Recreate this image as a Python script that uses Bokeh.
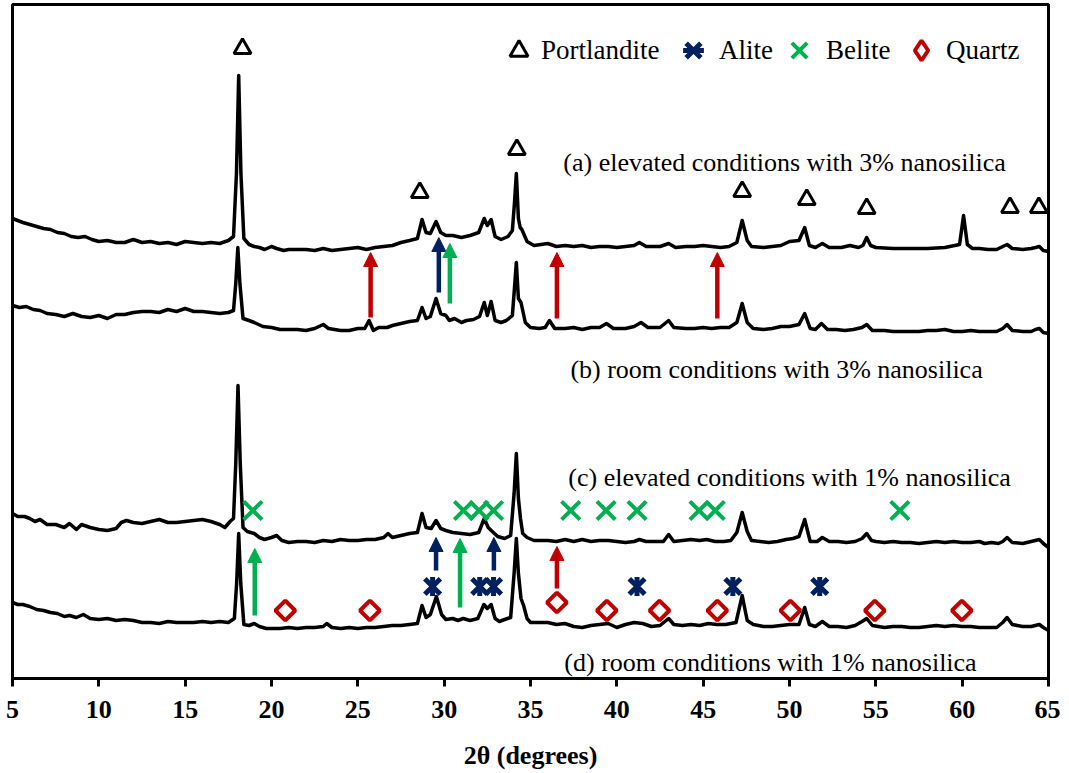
import math
from bokeh.plotting import figure
from bokeh.models import (Range1d, FixedTicker, Arrow, NormalHead, Label, Legend,
                          LegendItem, ColumnDataSource)
from bokeh.embed import file_html
from bokeh.resources import INLINE

# ---------------- data (2theta in degrees, intensity in a.u. with stacking offset) ----------------
trace_a = [(5.0,460),(5.3,458),(5.6,456),(6.0,454),(6.4,452),(6.8,450),(7.2,449),(7.6,446),(8.0,445),(8.4,442),(8.8,441),(9.2,442),(9.6,439),(10.0,437),(10.5,438),(11.0,436),(11.5,436),(12.0,439),(12.5,436),(13.0,437),(13.5,435),(14.0,436),(14.5,434),(15.0,437),(15.5,436),(16.0,435),(16.5,436),(17.0,435),(17.5,438),(17.8,442),(17.97,505),(18.1,603),(18.23,505),(18.4,440),(18.7,434),(19.0,432),(19.3,431),(19.6,429),(20.0,432),(20.3,430),(20.7,428),(21.0,429),(21.5,429),(22.0,429),(22.5,428),(23.0,430),(23.5,428),(24.0,429),(24.5,430),(25.0,431),(25.5,429),(26.0,431),(26.5,432),(27.0,433),(27.5,436),(28.0,438),(28.45,440),(28.72,459),(28.95,446),(29.2,445),(29.53,457),(29.8,446),(30.1,443),(30.5,443),(31.0,441),(31.5,443),(32.0,446),(32.32,460),(32.5,453),(32.72,459),(32.95,442),(33.3,439),(33.7,442),(33.95,448),(34.07,475),(34.18,505),(34.3,460),(34.4,451),(34.5,449),(34.8,437),(35.2,433),(35.6,434),(36.0,435),(36.5,432),(37.0,433),(37.5,432),(38.0,433),(38.5,431),(39.0,432),(39.5,432),(40.0,431),(40.5,432),(41.0,433),(41.3,436),(41.7,432),(42.0,432),(42.5,432),(43.0,435),(43.4,431),(44.0,432),(44.5,432),(45.0,433),(45.5,432),(46.0,431),(46.5,432),(46.95,436),(47.26,458),(47.55,438),(47.8,432),(48.5,431),(49.0,432),(49.5,433),(50.0,437),(50.55,438),(50.88,451),(51.15,433),(51.5,431),(51.9,435),(52.3,431),(53.0,431),(53.5,433),(54.0,431),(54.25,433),(54.47,441),(54.7,433),(55.0,431),(56.0,430),(57.0,430),(58.0,430),(59.0,431),(59.85,434),(60.08,463),(60.3,434),(60.6,430),(61.0,430),(61.5,429),(62.0,429),(62.35,432),(62.6,434),(62.9,430),(63.5,429),(64.0,430),(64.25,431),(64.47,432),(64.7,428),(65.0,427)]

trace_b = [(5.0,373),(5.4,371),(5.8,372),(6.2,369),(6.6,368),(7.0,365),(7.5,364),(8.0,362),(8.5,365),(9.0,362),(9.5,361),(10.0,363),(10.5,360),(11.0,364),(11.5,364),(12.0,366),(12.5,367),(13.0,367),(13.5,366),(14.0,369),(14.5,367),(15.0,370),(15.5,367),(16.0,367),(16.5,366),(17.0,365),(17.5,366),(17.8,368),(17.93,395),(18.05,431),(18.17,395),(18.35,360),(18.7,358),(19.0,356),(19.5,352),(20.0,351),(20.5,349),(21.0,349),(21.5,349),(22.0,348),(22.5,350),(23.0,354),(23.3,350),(24.0,348),(24.5,348),(25.0,350),(25.4,350),(25.65,358),(25.9,348),(26.2,351),(26.7,351),(27.0,353),(27.5,355),(28.0,357),(28.45,358),(28.72,371),(28.95,360),(29.2,362),(29.53,380),(29.8,365),(30.1,363),(30.3,358),(30.6,360),(31.0,356),(31.3,358),(31.7,359),(32.05,362),(32.32,376),(32.5,363),(32.72,377),(32.95,358),(33.3,356),(33.6,358),(33.95,363),(34.07,390),(34.18,416),(34.3,380),(34.45,376),(34.7,356),(35.0,351),(35.5,350),(35.85,351),(36.1,358),(36.4,350),(37.0,350),(37.5,351),(38.0,349),(38.5,351),(39.0,351),(39.4,355),(39.8,350),(40.5,350),(41.0,352),(41.4,356),(41.8,351),(42.5,351),(43.0,358),(43.3,351),(44.0,350),(44.5,350),(45.0,351),(45.5,350),(46.0,351),(46.5,351),(46.95,356),(47.26,375),(47.55,356),(47.9,350),(48.5,349),(49.0,350),(49.5,352),(50.0,352),(50.55,354),(50.88,365),(51.2,350),(51.5,349),(51.85,355),(52.2,349),(52.7,349),(53.2,348),(53.7,349),(54.2,351),(54.47,354),(54.8,348),(55.5,348),(56.0,347),(57.0,347),(57.5,347),(58.0,348),(58.5,348),(59.0,349),(59.5,347),(60.0,347),(60.5,348),(61.0,347),(61.5,347),(62.0,347),(62.35,350),(62.6,354),(62.9,348),(63.5,347),(64.0,347),(64.25,349),(64.47,350),(64.7,346),(65.0,345)]

trace_c = [(5.0,165),(5.3,162),(5.7,162),(6.0,160),(6.3,157),(6.6,159),(7.0,154),(7.5,154),(8.0,151),(8.3,155),(8.7,149),(9.0,154),(9.5,151),(10.0,149),(10.5,148),(11.0,150),(11.3,156),(11.6,158),(12.0,156),(12.5,155),(13.0,157),(13.5,159),(14.0,156),(14.5,156),(15.0,157),(15.5,158),(16.0,159),(16.5,157),(17.0,154),(17.3,151),(17.6,157),(17.8,160),(17.93,215),(18.06,293),(18.19,215),(18.35,151),(18.6,147),(19.0,145),(19.3,141),(19.6,139),(20.0,141),(20.3,143),(20.6,138),(21.0,136),(21.5,137),(22.0,137),(22.5,136),(23.0,138),(23.5,137),(24.0,139),(24.5,138),(25.0,138),(25.5,139),(26.0,139),(26.5,141),(26.75,145),(27.0,141),(27.5,143),(28.0,145),(28.45,146),(28.72,165),(28.95,151),(29.25,150),(29.53,158),(29.8,150),(30.1,148),(30.5,146),(31.0,145),(31.5,144),(32.0,146),(32.32,160),(32.55,151),(32.85,146),(33.1,142),(33.5,140),(33.85,143),(34.05,185),(34.18,225),(34.3,180),(34.42,160),(34.55,145),(34.8,141),(35.2,138),(35.6,138),(36.0,138),(36.5,137),(37.0,139),(37.5,137),(38.0,139),(38.5,137),(39.0,138),(39.5,138),(40.0,137),(40.5,136),(41.0,137),(41.3,139),(41.7,137),(42.2,137),(42.7,137),(43.0,144),(43.3,137),(43.8,138),(44.3,139),(44.8,138),(45.2,139),(45.7,137),(46.2,137),(46.6,138),(46.95,146),(47.26,166),(47.55,147),(47.8,138),(48.3,137),(48.8,136),(49.3,137),(49.8,139),(50.2,140),(50.55,142),(50.88,159),(51.2,137),(51.6,137),(51.9,141),(52.3,137),(52.8,137),(53.3,136),(53.8,137),(54.2,140),(54.47,145),(54.75,138),(55.0,137),(55.5,136),(56.0,137),(56.5,136),(57.0,136),(57.5,135),(58.0,136),(58.5,137),(59.0,136),(59.5,137),(60.0,136),(60.5,136),(61.0,137),(61.3,135),(61.7,136),(62.1,135),(62.35,137),(62.6,141),(62.9,136),(63.5,135),(64.0,137),(64.47,139),(64.7,135),(65.0,131)]

trace_d = [(5.0,76),(5.3,74),(5.6,74),(6.0,72),(6.4,69),(6.8,68),(7.2,66),(7.6,65),(8.0,62),(8.3,63),(8.7,61),(9.1,64),(9.5,60),(10.0,59),(10.5,60),(11.0,58),(11.5,59),(12.0,58),(12.5,56),(13.0,56),(13.5,55),(14.0,57),(14.5,56),(15.0,56),(15.5,56),(16.0,57),(16.5,56),(17.0,57),(17.5,56),(17.85,60),(17.98,95),(18.1,145),(18.22,95),(18.4,54),(18.7,53),(19.0,55),(19.3,52),(19.7,50),(20.0,50),(20.5,50),(21.0,51),(21.5,50),(22.0,51),(22.5,51),(23.0,52),(23.2,55),(23.5,51),(24.0,50),(24.5,51),(25.0,50),(25.5,51),(26.0,51),(26.5,52),(27.0,53),(27.5,53),(28.0,54),(28.45,55),(28.72,73),(28.95,61),(29.2,64),(29.55,82),(29.85,64),(30.1,59),(30.5,60),(30.8,58),(31.1,60),(31.5,58),(31.95,60),(32.3,74),(32.5,70),(32.72,74),(32.95,60),(33.2,57),(33.5,59),(33.85,61),(34.05,105),(34.18,140),(34.3,105),(34.45,80),(34.6,73),(34.8,60),(35.0,56),(35.5,56),(36.0,56),(36.5,54),(37.0,55),(37.5,52),(38.0,51),(38.5,53),(39.0,54),(39.5,55),(40.0,51),(40.5,54),(41.0,56),(41.5,55),(42.0,52),(42.5,53),(43.0,60),(43.3,54),(43.8,53),(44.3,54),(44.8,53),(45.3,55),(45.8,54),(46.3,54),(46.9,56),(47.26,83),(47.55,58),(47.9,54),(48.5,52),(49.0,52),(49.5,53),(50.0,54),(50.55,54),(50.88,71),(51.15,54),(51.5,52),(51.9,57),(52.3,52),(52.8,52),(53.3,51),(53.8,53),(54.2,57),(54.47,60),(54.8,53),(55.5,51),(56.0,52),(56.5,52),(57.0,51),(57.5,51),(58.0,52),(58.5,53),(59.0,52),(59.5,53),(60.0,52),(60.5,52),(61.0,51),(61.5,51),(62.0,51),(62.35,56),(62.6,61),(62.9,54),(63.5,52),(64.0,52),(64.47,54),(64.7,51),(65.0,48)]

# phase markers
portlandite_tt = [18.32, 28.59, 34.21, 47.26, 51.0, 54.47, 62.77, 64.44]
portlandite_y = [630, 486, 529, 487, 479, 470, 471, 471]
alite_tt = [29.33, 32.06, 32.86, 41.17, 46.72, 51.75]
alite_y = [92, 92, 92, 92, 92, 92]
belite_tt = [18.92, 31.12, 32.02, 32.86, 37.33, 39.38, 41.17, 44.76, 45.7, 56.39]
belite_y = [168, 168, 168, 168, 168, 168, 168, 168, 168, 168]
quartz_tt = [20.8, 25.7, 36.53, 39.42, 42.47, 45.82, 50.05, 54.94, 59.98]
quartz_y = [68, 68, 76, 68, 68, 68, 68, 68, 68]

# arrows (2theta, tail, tip)
red_arrow_tt = [25.74, 36.53, 45.82, 36.53]
red_arrow_y0 = [361, 360, 360, 90]
red_arrow_y1 = [426, 426, 426, 132]
blue_arrow_tt = [29.69, 29.53, 32.88]
blue_arrow_y0 = [386, 108, 108]
blue_arrow_y1 = [441, 141, 141]
green_arrow_tt = [30.33, 19.03, 30.92]
green_arrow_y0 = [375, 63, 71]
green_arrow_y1 = [435, 130, 140]

# pattern labels
label_texts = ["(a) elevated conditions with 3% nanosilica",
               "(b) room conditions with 3% nanosilica",
               "(c) elevated conditions with 1% nanosilica",
               "(d) room conditions with 1% nanosilica"]
label_tt = [36.9, 37.31, 37.19, 36.96]
label_y = [516, 309, 201, 16]

phase_names = ["Portlandite", "Alite", "Belite", "Quartz"]
x_ticks = [5, 10, 15, 20, 25, 30, 35, 40, 45, 50, 55, 60, 65]

BLACK = "#000000"
RED = "#C00000"
NAVY = "#002060"
GREEN = "#00B050"
SERIF = "Liberation Serif"

# ---------------- figure ----------------
p = figure(frame_width=1036, frame_height=674,
           x_range=Range1d(5, 65), y_range=Range1d(0, 674),
           output_backend="svg", toolbar_location=None, y_axis_location=None,
           min_border_left=12, min_border_right=12, min_border_top=4, min_border_bottom=0)
p.xgrid.visible = False
p.ygrid.visible = False
p.outline_line_color = BLACK
p.outline_line_width = 3
p.background_fill_color = "white"
p.border_fill_color = "white"

ax = p.xaxis[0]
ax.ticker = FixedTicker(ticks=x_ticks)
ax.minor_tick_line_color = None
ax.major_tick_in = 0
ax.major_tick_out = 8
ax.major_tick_line_width = 3
ax.axis_line_width = 3
ax.major_label_text_font = SERIF
ax.major_label_text_font_style = "bold"
ax.major_label_text_font_size = "26px"
ax.major_label_text_color = BLACK
ax.major_label_standoff = 14
ax.axis_label = "2θ (degrees)"
ax.axis_label_text_font = SERIF
ax.axis_label_text_font_style = "bold"
ax.axis_label_text_font_size = "26px"
ax.axis_label_text_color = BLACK
ax.axis_label_standoff = 20

for tr in (trace_a, trace_b, trace_c, trace_d):
    xs = [t for t, _ in tr]
    ys = [v for _, v in tr]
    p.line(xs, ys, line_color=BLACK, line_width=3.5, line_join="round")

r_port = p.scatter(portlandite_tt, portlandite_y, marker="triangle", size=17,
                   fill_color=None, line_color=BLACK, line_width=3)
r_alite_x = p.scatter(alite_tt, alite_y, marker="x", size=22, line_color=NAVY, line_width=5)
r_alite_v = p.scatter(alite_tt, alite_y, marker="dash", size=19, angle=math.pi / 2,
                      line_color=NAVY, line_width=5)
r_belite = p.scatter(belite_tt, belite_y, marker="x", size=26, line_color=GREEN, line_width=4)
r_quartz = p.scatter(quartz_tt, quartz_y, marker="square", size=14, angle=math.pi / 4,
                     fill_color=None, line_color=RED, line_width=4)
# hidden twin of the quartz markers, only used to draw the legend symbol upright as a diamond
r_quartz_key = p.scatter(quartz_tt, quartz_y, marker="diamond", size=20,
                         fill_color=None, line_color=RED, line_width=4, visible=False)

for tt, y0, y1, col in ((red_arrow_tt, red_arrow_y0, red_arrow_y1, RED),
                        (blue_arrow_tt, blue_arrow_y0, blue_arrow_y1, NAVY),
                        (green_arrow_tt, green_arrow_y0, green_arrow_y1, GREEN)):
    src = ColumnDataSource(dict(x=tt, y0=y0, y1=y1))
    p.add_layout(Arrow(end=NormalHead(size=14, fill_color=col, line_color=col, line_width=1),
                       x_start="x", y_start="y0", x_end="x", y_end="y1", source=src,
                       line_color=col, line_width=4.5))

for txt, xx, yy in zip(label_texts, label_tt, label_y):
    p.add_layout(Label(x=xx, y=yy, text=txt, text_font=SERIF, text_font_size="26px",
                       text_baseline="middle", text_align="left", text_color=BLACK))

# one legend box per phase, laid out in a row at the top right of the frame
legend_renderers = [[r_port], [r_alite_x, r_alite_v], [r_belite], [r_quartz_key]]
legend_glyph = [45, 52, 54, 50]
legend_left = [484, 655, 760, 884]
for name, rends, g, lx in zip(phase_names, legend_renderers, legend_glyph, legend_left):
    lg = Legend(items=[LegendItem(label=name, renderers=rends)],
                orientation="horizontal", location=(lx, 628 - g / 2),
                glyph_width=g, glyph_height=g, label_standoff=0,
                padding=0, margin=0, border_line_alpha=0, background_fill_alpha=0,
                inactive_fill_alpha=0,
                label_text_font=SERIF, label_text_font_size="27px", label_text_color=BLACK)
    p.add_layout(lg)

open("out.html", "w").write(file_html(p, INLINE))
